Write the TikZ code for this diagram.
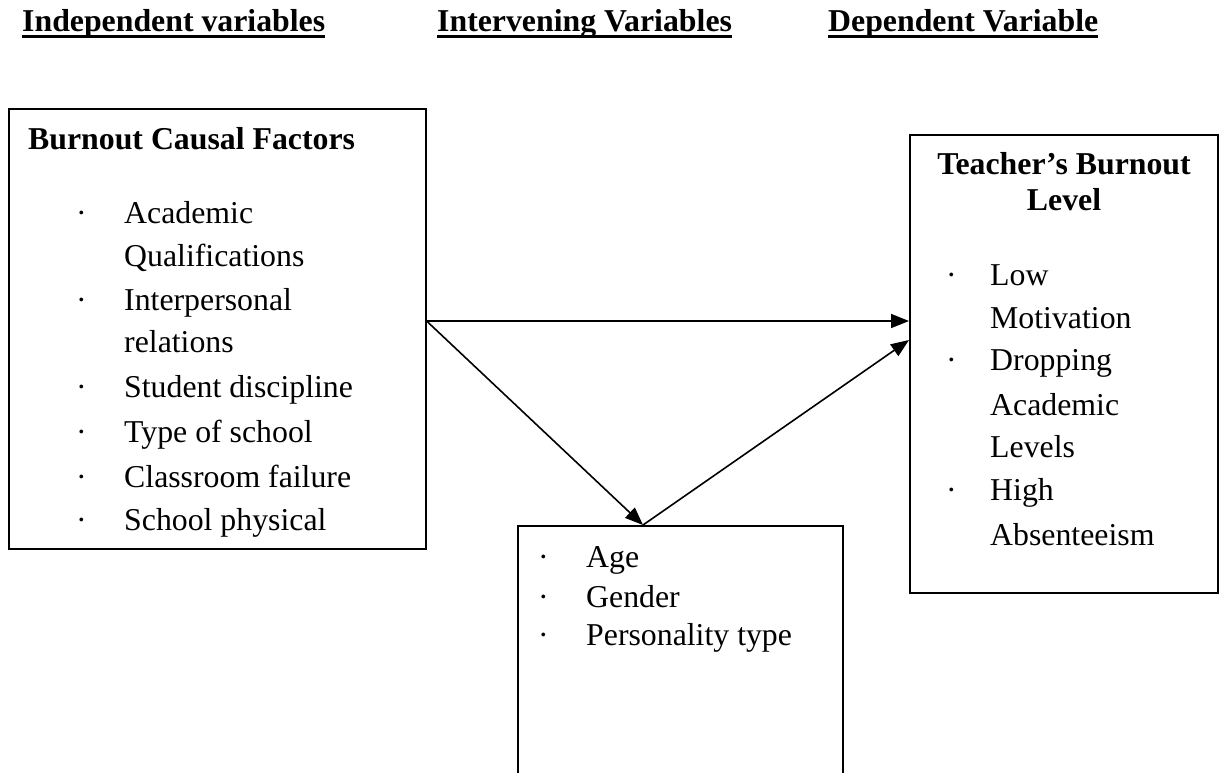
\documentclass[tikz,border=0pt]{standalone}
\usepackage{fontspec}
\setmainfont{Liberation Serif}
\usetikzlibrary{arrows.meta}
\begin{document}
\begin{tikzpicture}[x=1pt,y=-1pt,
  box/.style={draw,line width=1.6pt,rectangle,inner sep=0pt,anchor=north west},
  txt/.style={anchor=base west,inner sep=0pt,font=\fontsize{31.8}{43}\selectfont},
  ttl/.style={anchor=base west,inner sep=0pt,font=\fontsize{31.8}{43}\selectfont\bfseries},
  hdr/.style={anchor=base west,inner sep=0pt,font=\fontsize{31.8}{43}\selectfont\bfseries},
  ul/.style={line width=3.5pt},
  conn/.style={line width=1.6pt,-{Triangle[length=18pt,width=14pt]}}]
\useasboundingbox (0,0) rectangle (1223,772);
\fill[white] (0,0) rectangle (1223,772);
% headers
\node[hdr] (h1) at (22,31) {Independent variables};
\node[hdr] (h2) at (437,31) {Intervening Variables};
\node[hdr] (h3) at (828,31) {Dependent Variable};
\foreach \h in {h1,h2,h3}
  \draw[ul] ([yshift=-5.5pt]\h.base west) -- ([yshift=-5.5pt]\h.base east);
% boxes
\node[box,minimum width=417pt,minimum height=440pt] (L) at (8,108) {};
\node[box,minimum width=308pt,minimum height=458pt] (R) at (909,134) {};
\begin{scope}
\clip (0,0) rectangle (1223,772);
\node[box,minimum width=325pt,minimum height=320pt] (M) at (517,525) {};
\end{scope}
% left box text
\node[ttl] (lt) at (28,149) {Burnout Causal Factors};
\foreach \y/\t/\b in {223/Academic/1,266/Qualifications/0,310/Interpersonal/1,352/relations/0,397/Student discipline/1,442/Type of school/1,487/Classroom failure/1,530/School physical/1}{
  \node[txt] (l\y) at (124,\y) {\t};
  \ifnum\b=1 \node[txt] (lb\y) at (76,\y) {·};\fi
}
% right box text
\node[ttl,anchor=base] (rt1) at (1064,174) {Teacher’s Burnout};
\node[ttl,anchor=base] (rt2) at (1064,210) {Level};
\foreach \y/\t/\b in {285/Low/1,328/Motivation/0,370/Dropping/1,415/Academic/0,457/Levels/0,500/High/1,545/Absenteeism/0}{
  \node[txt] (r\y) at (990,\y) {\t};
  \ifnum\b=1 \node[txt] (rb\y) at (946,\y) {·};\fi
}
% middle box text
\foreach \y/\t in {567/Age,607/Gender,645/Personality type}{
  \node[txt] (m\y) at (586,\y) {\t};
  \node[txt] (mb\y) at (538,\y) {·};
}
% connectors
\coordinate (s) at (L.east |- 0,321);
\coordinate (t1) at (R.west |- 0,321);
\coordinate (a) at (643,525);
\coordinate (t2) at (R.west |- 0,340);
\draw[conn] (s) -- (t1);
\draw[conn] (s) -- (a);
\draw[conn] (a) -- (t2);
\end{tikzpicture}
\end{document}
